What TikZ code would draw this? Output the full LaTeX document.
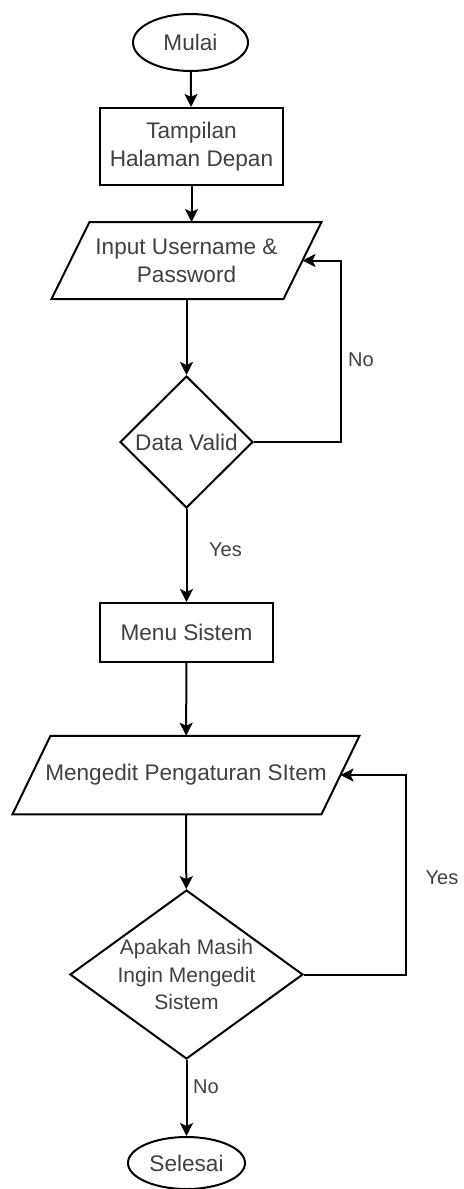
\documentclass[tikz,border=0pt]{standalone}
\usepackage{fontspec}
\setmainfont{Liberation Sans}
\usepackage{tikz}
\usetikzlibrary{shapes.geometric, arrows.meta}

\begin{document}
\begin{tikzpicture}[x=0.5pt, y=-0.5pt, line width=1pt, font=\fontsize{11.3}{14}\selectfont, text=black!75,
    term/.style={draw, ellipse, inner sep=0pt, text=black!75},
    proc/.style={draw, rectangle, align=center, inner sep=0pt},
    io/.style={rectangle, align=center, inner sep=0pt, append after command={\pgfextra{\draw ([xshift=9.5pt]\tikzlastnode.north west) -- ([xshift=9.5pt]\tikzlastnode.north east) -- ([xshift=-9.5pt]\tikzlastnode.south east) -- ([xshift=-9.5pt]\tikzlastnode.south west) -- cycle;}}},
    dec/.style={draw, diamond, align=center, inner sep=0pt},
    lbl/.style={font=\fontsize{10}{12}\selectfont},
    n/.style={-{Stealth[length=6.5pt, width=6.5pt, inset=1.5pt]}, line width=1pt, black}]
                \useasboundingbox (0,0) rectangle (463,1189);
                % nodes
                \node[term, minimum width=57.5pt, minimum height=28.5pt] (mulai) at (190.5,42.5) {Mulai};
                \node[proc, minimum width=91.5pt, minimum height=38.5pt] (tampil) at (191.5,146.5) {Tampilan\\Halaman Depan};
                \node[io, minimum width=115pt, minimum height=37.5pt] (in1) at (186.5,260.5) {Input Username \&\\Password};
                \node[dec, minimum width=66.5pt, minimum height=66pt] (valid) at (186.5,442) {Data Valid};
                \node[proc, minimum width=86.5pt, minimum height=29.5pt] (menu) at (186.5,632.5) {Menu Sistem};
                \node[io, minimum width=153.5pt, minimum height=38.25pt] (in2) at (186,775) {Mengedit Pengaturan SItem};
                \node[dec, aspect=1.379, inner sep=-2pt, minimum width=116.5pt, minimum height=84.5pt, font=\fontsize{10.5}{13.75}\selectfont] (edit) at (186.5,974.5) {Apakah Masih\\Ingin Mengedit\\Sistem};
                \node[term, minimum width=58.5pt, minimum height=26pt] (selesai) at (186.5,1163) {Selesai};
                % labels
                \node[lbl] (no1) at (361,360) {No};
                \node[lbl] (yes1) at (225.5,550) {Yes};
                \node[lbl] (yes2) at (442,878) {Yes};
                \node[lbl] (no2) at (206,1087) {No};
                % edges
                \draw [n] (mulai) -- (tampil);
                \draw [n] (tampil) -- (tampil.south |- in1.north);
                \draw [n] (in1) -- (valid);
                \draw [n] (valid.east) -- ++(87,0) |- (in1.east);
                \draw [n] (valid) -- (menu);
                \draw [n] (menu) -- (in2);
                \draw [n] (in2) -- (edit);
                \draw [n] (edit.east) -- ++(102,0) |- (in2.east);
                \draw [n] (edit) -- (selesai);
            \end{tikzpicture}
\end{document}
